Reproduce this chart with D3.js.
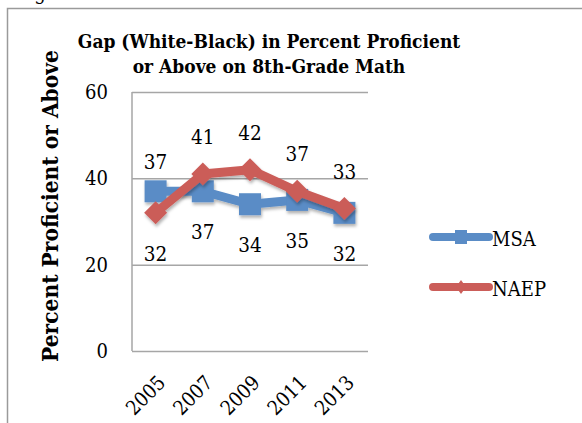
<!DOCTYPE html>
<html>
<head>
<meta charset="utf-8">
<script src="https://cdn.jsdelivr.net/npm/d3@7"></script>
<style>
  html, body { margin: 0; padding: 0; background: #fff; }
  svg { display: block; }
  text { font-family: "DejaVu Serif Condensed", "DejaVu Serif", serif; fill: #000; }
</style>
</head>
<body>
<svg id="chart" width="582" height="423"></svg>
<script>
// Gap (White-Black) in percent proficient or above, 8th-grade math
const years = ["2005", "2007", "2009", "2011", "2013"];
const msa = [37, 37, 34, 35, 32];
const naep = [32, 41, 42, 37, 33];
const yTicks = [0, 20, 40, 60];
const seriesNames = ["MSA", "NAEP"];

const W = 582, H = 423;
const plot = { left: 132, right: 368, top: 92, bottom: 351 };
const colors = { MSA: "#5a8cc6", NAEP: "#cb5d59" };
const gridColor = "#a6a6a6";
const FONT = "'DejaVu Serif Condensed', 'DejaVu Serif', serif";

const svg = d3.select("#chart");

// drop shadow under series marks
const defs = svg.append("defs");
const f = defs.append("filter").attr("id", "shadow")
  .attr("x", "-20%").attr("y", "-20%").attr("width", "140%").attr("height", "160%");
f.append("feDropShadow").attr("dx", 1).attr("dy", 2.5).attr("stdDeviation", 1.6)
  .attr("flood-color", "#000").attr("flood-opacity", 0.3);

// caption line above the chart frame (only its lowest edge is in view)
svg.append("text").attr("x", 16).attr("y", 0)
  .style("font-size", "20px").text("Figure");

// chart frame
svg.append("rect").attr("x", 7.5).attr("y", 8.5)
  .attr("width", W + 20).attr("height", H + 20)
  .attr("fill", "none").attr("stroke", "#9a9a9a").attr("stroke-width", 1.5);

// title
const title = svg.append("text").attr("text-anchor", "middle")
  .style("font-weight", "bold").style("font-size", "19px");
title.append("tspan").attr("x", 269).attr("y", 48).text("Gap (White-Black) in Percent Proficient");
title.append("tspan").attr("x", 269).attr("y", 73).text("or Above on 8th-Grade Math");

// y-axis title
svg.append("text")
  .attr("transform", "translate(58,206) rotate(-90)")
  .attr("text-anchor", "middle")
  .style("font-weight", "bold").style("font-size", "22.5px")
  .text("Percent Proficient or Above");

// scales
const x = d3.scaleBand().domain(years).range([plot.left, plot.right]).padding(0);
const cx = d => x(d) + x.bandwidth() / 2;
const y = d3.scaleLinear().domain([0, 60]).range([plot.bottom, plot.top]);

// y axis with gridlines
const yAxis = svg.append("g").attr("transform", `translate(${plot.left},0)`)
  .call(d3.axisLeft(y).tickValues(yTicks)
    .tickSize(-(plot.right - plot.left)).tickSizeOuter(0).tickPadding(24));
yAxis.select(".domain").remove();
yAxis.selectAll(".tick line").attr("stroke", gridColor).attr("stroke-width", 1.5);
yAxis.selectAll(".tick text")
  .style("font-family", FONT).style("font-size", "20px").attr("fill", "#000");

// vertical axis line
svg.append("line")
  .attr("x1", plot.left).attr("x2", plot.left)
  .attr("y1", plot.top).attr("y2", plot.bottom)
  .attr("stroke", gridColor).attr("stroke-width", 1.5);

// x axis labels, rotated
const xAxis = svg.append("g").attr("transform", `translate(0,${plot.bottom})`)
  .call(d3.axisBottom(x).tickSize(0).tickPadding(0));
xAxis.select(".domain").remove();
xAxis.selectAll(".tick text")
  .style("font-family", FONT).style("font-size", "20px").attr("fill", "#000")
  .attr("text-anchor", "end")
  .attr("dy", null).attr("y", 0)
  .attr("transform", "translate(11,33) rotate(-45)");

// series
const series = [
  { name: "MSA", values: msa, marker: "square", labelSide: ["above", "below", "below", "below", "below"], aboveOffset: -29 },
  { name: "NAEP", values: naep, marker: "diamond", labelSide: ["below", "above", "above", "above", "above"], aboveOffset: -37 }
];

const line = d3.line().x((d, i) => cx(years[i])).y(d => y(d));

function markerPath(kind, size) {
  const h = size / 2;
  if (kind === "square") return `M${-h},${-h}H${h}V${h}H${-h}Z`;
  return `M0,${-h}L${h},0L0,${h}L${-h},0Z`;
}

series.forEach(s => {
  const g = svg.append("g").attr("filter", "url(#shadow)");
  g.append("path").datum(s.values)
    .attr("d", line)
    .attr("fill", "none")
    .attr("stroke", colors[s.name])
    .attr("stroke-width", 9)
    .attr("stroke-linejoin", "round");
  g.selectAll("path.marker").data(s.values).enter().append("path")
    .attr("class", "marker")
    .attr("transform", (d, i) => `translate(${cx(years[i])},${y(d)})`)
    .attr("d", markerPath(s.marker, s.marker === "square" ? 22 : 23))
    .attr("fill", colors[s.name]);
});

// data labels
series.forEach(s => {
  svg.append("g").selectAll("text").data(s.values).enter().append("text")
    .attr("x", (d, i) => cx(years[i]))
    .attr("y", (d, i) => y(d) + (s.labelSide[i] === "above" ? s.aboveOffset : 41))
    .attr("dy", "0.35em")
    .attr("text-anchor", "middle")
    .style("font-size", "20.5px")
    .text(d => d);
});

// legend
const legend = svg.append("g");
seriesNames.forEach((name, i) => {
  const ly = 237 + i * 50;
  const s = series.find(t => t.name === name);
  legend.append("line")
    .attr("x1", 433).attr("x2", 489).attr("y1", ly).attr("y2", ly)
    .attr("stroke", colors[name]).attr("stroke-width", 8).attr("stroke-linecap", "round");
  if (s.marker === "square") {
    legend.append("rect").attr("x", 455).attr("y", ly - 7).attr("width", 12).attr("height", 14)
      .attr("fill", colors[name]);
  } else {
    legend.append("path").attr("transform", `translate(461,${ly})`)
      .attr("d", "M0,-7L5,0L0,7L-5,0Z").attr("fill", colors[name]);
  }
  legend.append("text").attr("x", 492).attr("y", ly + 9)
    .style("font-size", "20px").text(name);
});
</script>
</body>
</html>
